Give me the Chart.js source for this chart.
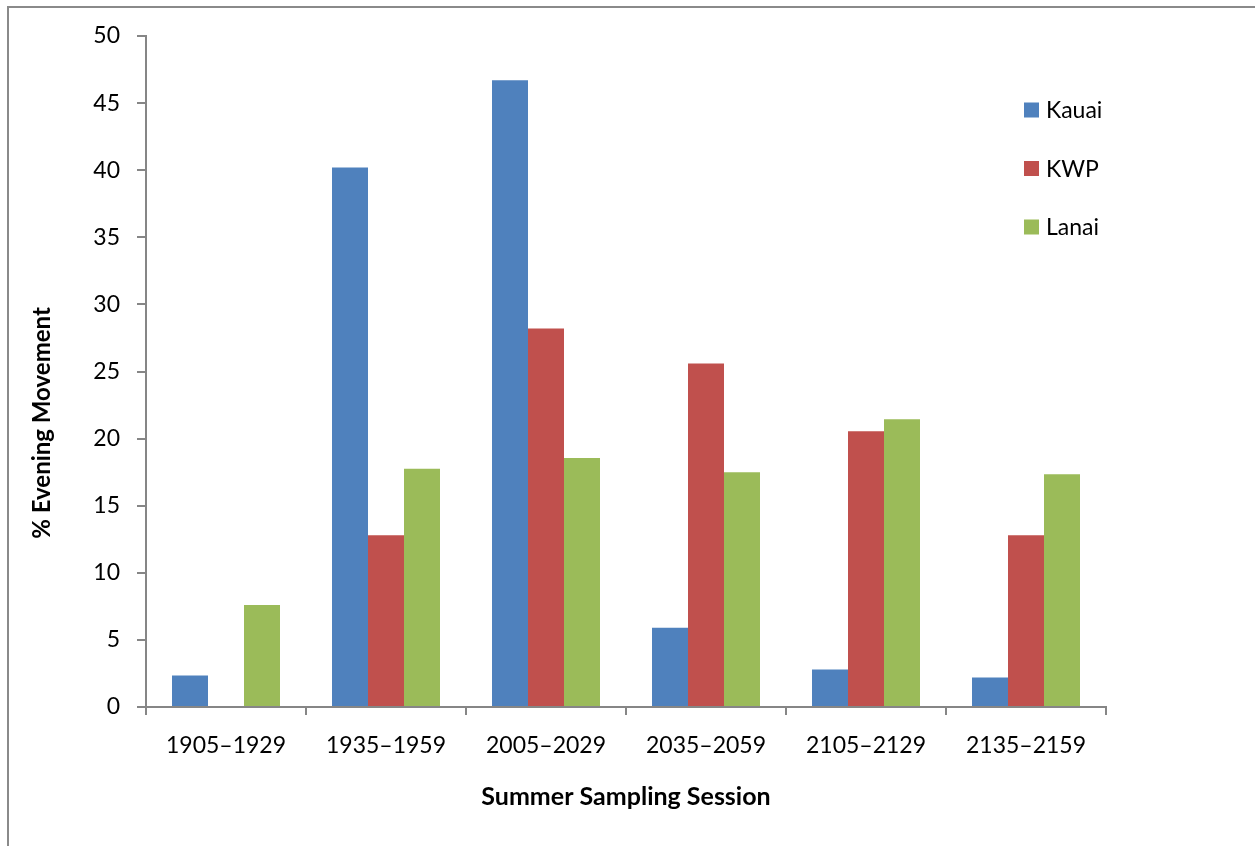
<!DOCTYPE html>
<html>
<head>
<meta charset="utf-8">
<script src="https://cdn.jsdelivr.net/npm/chart.js@4.4.1/dist/chart.umd.min.js"></script>
<style>
  html, body { margin: 0; padding: 0; background: #fff; }
  body { width: 1255px; height: 846px; position: relative; overflow: hidden; }
  .frame { position: absolute; left: 7px; top: 6px; width: 1300px; height: 900px;
           border-left: 2px solid #8a8a8a; border-top: 2px solid #8a8a8a; }
  #wrap { position: absolute; left: 0; top: 0; width: 1255px; height: 846px; }
</style>
</head>
<body>
<div class="frame"></div>
<div id="wrap"><canvas id="chart"></canvas></div>
<script>
// categorias e séries
const sessions = ['1905–1929', '1935–1959', '2005–2029', '2035–2059', '2105–2129', '2135–2159'];
const kauai = [2.35, 40.2, 46.7, 5.9, 2.8, 2.2];
const kwp   = [0, 12.8, 28.2, 25.6, 20.55, 12.8];
const lanai = [7.6, 17.75, 18.55, 17.5, 21.45, 17.35];
const yTitle = '% Evening Movement';

const axisColor = '#868686';
const FONT = 'Lato, "Open Sans", sans-serif';

/**
 * Legenda vertical dentro da área do gráfico + título do eixo Y
 * (no Excel o título fica um pouco abaixo do centro)
 */
const sideLegend = {
  id: 'sideLegend',
  afterDraw(chart) {
    const ctx = chart.ctx;
    ctx.save();
    ctx.font = '23px ' + FONT;
    ctx.textBaseline = 'middle';
    chart.data.datasets.forEach((ds, i) => {
      const cy = 110 + i * 58.5;
      ctx.fillStyle = ds.backgroundColor;
      ctx.fillRect(1024, cy - 7.5, 15, 15);
      ctx.fillStyle = '#000';
      ctx.fillText(ds.label, 1046, cy + 1);
    });

    ctx.translate(42, 423);
    ctx.rotate(-Math.PI / 2);
    ctx.font = 'bold 24px ' + FONT;
    ctx.textAlign = 'center';
    ctx.fillStyle = '#000';
    ctx.fillText(yTitle, 0, 0);
    ctx.restore();
  },
};

Chart.defaults.font.family = FONT;
Chart.defaults.color = '#000';

new Chart(document.getElementById('chart'), {
  type: 'bar',
  data: {
    labels: sessions,
    datasets: [
      { label: 'Kauai', data: kauai, backgroundColor: '#4F81BD' },
      { label: 'KWP',   data: kwp,   backgroundColor: '#C0504D' },
      { label: 'Lanai', data: lanai, backgroundColor: '#9BBB59' },
    ],
  },
  options: {
    responsive: true,
    maintainAspectRatio: false,
    animation: false,
    layout: { padding: { left: 30, top: 36, right: 149, bottom: 34 } },
    datasets: { bar: { categoryPercentage: 0.675, barPercentage: 1 } },
    plugins: {
      legend: { display: false },
      tooltip: { enabled: false },
    },
    scales: {
      x: {
        afterFit: s => { s.height = 105; },
        grid: { drawOnChartArea: false, color: axisColor, lineWidth: 2, tickLength: 8 },
        border: { color: axisColor, width: 2 },
        ticks: { color: '#000', font: { size: 23 }, padding: 17, maxRotation: 0 },
        title: {
          display: true,
          text: 'Summer Sampling Session',
          color: '#000',
          font: { size: 25, weight: 'bold' },
          padding: 0,
        },
      },
      y: {
        min: 0,
        max: 50,
        afterFit: s => { s.width = 116; },
        grid: { drawOnChartArea: false, color: axisColor, lineWidth: 2, tickLength: 9 },
        border: { color: axisColor, width: 2 },
        ticks: { stepSize: 5, color: '#000', font: { size: 23 }, padding: 17 },
      },
    },
  },
  plugins: [sideLegend],
});
</script>
</body>
</html>
